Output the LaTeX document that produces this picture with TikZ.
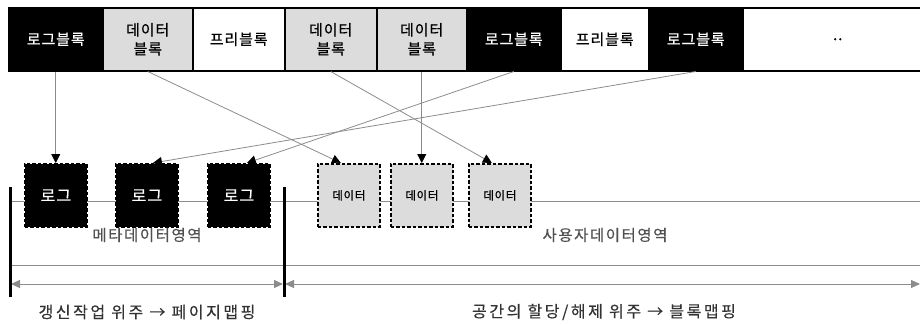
\documentclass[tikz,border=0pt]{standalone}
\usepackage{fontspec}
\newfontfamily\kr[LetterSpace=6,FakeBold=0.6]{Noto Sans CJK KR}
\newfontfamily\krw[LetterSpace=10,FakeBold=0.4]{Noto Sans CJK KR}
\newfontfamily\krc[LetterSpace=16,FakeBold=0.4]{Noto Sans CJK KR}
\usetikzlibrary{arrows.meta,calc}
\definecolor{lgray}{HTML}{DCDCDC}
\definecolor{lnc}{HTML}{8C8C8C}
\definecolor{txtg}{HTML}{505050}
\begin{document}
\begin{tikzpicture}[x=1pt,y=-1pt,
  cell/.style={draw=black,line width=1.5pt,minimum height=63pt,anchor=north west,inner sep=0pt,align=center,font=\kr\fontsize{15}{19}\selectfont},
  logcell/.style={cell,fill=black,text=white},
  datacell/.style={cell,fill=lgray},
  freecell/.style={cell,fill=white},
  dbox/.style={draw=black,line width=1.8pt,dash pattern=on 3.5pt off 2pt,minimum width=62pt,minimum height=63pt,anchor=north west,inner sep=0pt},
  logbox/.style={dbox,fill=black,text=white,font=\kr\fontsize{16}{18}\selectfont},
  databox/.style={dbox,fill=lgray,font=\kr\fontsize{11.5}{14}\selectfont},
  conn/.style={draw=lnc,line width=0.8pt,-{Triangle[length=9pt,width=9pt,black]}},
  hline/.style={draw=lnc,line width=1pt},
  bar/.style={draw=black,line width=3pt},
  dim/.style={draw=lnc,line width=1pt,{Triangle[length=9pt,width=8pt]}-{Triangle[length=9pt,width=8pt]}},
  region/.style={text=txtg,font=\krw\fontsize{15.5}{16}\selectfont,inner sep=0pt},
  caption/.style={text=black!80,font=\krc\fontsize{16}{16}\selectfont,inner sep=0pt}]
\useasboundingbox (0,0) rectangle (920,324);

% top bar
\node[logcell,minimum width=94pt] (c1) at (8,7) {로그블록};
\node[datacell,minimum width=90pt] (c2) at (102,7) {데이터\\블록};
\node[freecell,minimum width=92pt] (c3) at (192,7) {프리블록};
\node[datacell,minimum width=92pt] (c4) at (284,7) {데이터\\블록};
\node[datacell,minimum width=90pt] (c5) at (376,7) {데이터\\블록};
\node[logcell,minimum width=94pt] (c6) at (466,7) {로그블록};
\node[freecell,minimum width=88pt] (c7) at (560,7) {프리블록};
\node[logcell,minimum width=94pt] (c8) at (648,7) {로그블록};
\node[freecell,minimum width=190pt] (c9) at (742,7) {..};

% horizontal lines
\coordinate (h1l) at (10,201);
\coordinate (h1r) at (920,201);
\coordinate (h2l) at (10,265);
\coordinate (h2r) at (920,265);
\draw[hline] (h1l) -- (h1r);
\draw[hline] (h2l) -- (h2r);

% lower boxes
\node[logbox] (l1) at (24,163) {로그};
\node[logbox] (l2) at (115,163) {로그};
\node[logbox] (l3) at (207,163) {로그};
\node[databox] (d1) at (317,163) {데이터};
\node[databox] (d2) at (390,163) {데이터};
\node[databox] (d3) at (468,163) {데이터};

% connectors
\draw[conn] (c1.south) -- (c1.south |- l1.north);
\draw[conn] (c2.south) -- ($(d1.north)+(-8,0)$);
\draw[conn] (c4.south) -- ($(d3.north)+(-8,0)$);
\draw[conn] (c5.south) -- (c5.south |- d2.north);
\draw[conn] (c6.south) -- ($(l3.north)+(8,0)$);
\draw[conn] (c8.south) -- ($(l2.north)+(6,0)$);

% region labels
\node[region] (rm) at (147,235) {메타데이터영역};
\node[region] (ru) at (605,235) {사용자데이터영역};

% bars and dimension arrows
\coordinate (b1t) at (10,187);
\coordinate (b1b) at (10,297);
\coordinate (b2t) at (284,187);
\coordinate (b2b) at (284,297);
\coordinate (a1l) at (11,284);
\coordinate (a1r) at (283,284);
\coordinate (a2l) at (285,284);
\coordinate (a2r) at (920,284);
\draw[dim] (a1l) -- (a1r);
\draw[dim] (a2l) -- (a2r);
\draw[bar] (b1t) -- (b1b);
\draw[bar] (b2t) -- (b2b);

% captions
\node[caption] (t1) at (147,312) {갱신작업 위주 → 페이지맵핑};
\node[caption] (t2) at (604,312) {공간의 할당/해제 위주 → 블록맵핑};
\end{tikzpicture}
\end{document}
